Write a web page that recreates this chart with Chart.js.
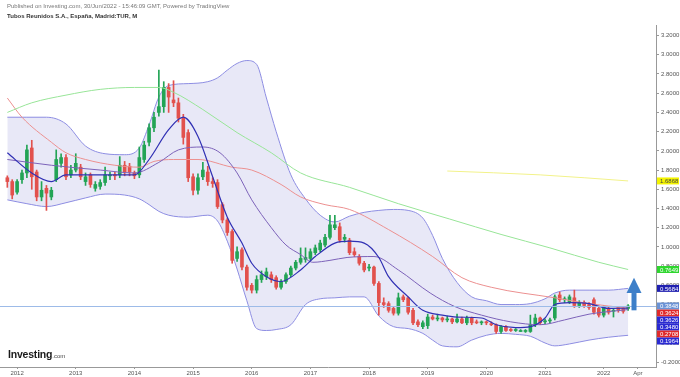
<!DOCTYPE html>
<html>
<head>
<meta charset="utf-8">
<script src="https://cdn.jsdelivr.net/npm/chart.js@4.4.0/dist/chart.umd.min.js"></script>
<style>
html,body{margin:0;padding:0;background:#fff;}
#wrap{position:relative;width:680px;height:377px;overflow:hidden;font-family:"Liberation Sans",Arial,sans-serif;}
#pub{position:absolute;left:7px;top:3px;font-size:6px;color:#777;white-space:nowrap;}
#ttl{position:absolute;left:7px;top:13px;font-size:6px;font-weight:bold;color:#333;white-space:nowrap;}
#logo{position:absolute;left:8px;top:348px;font-size:10.5px;font-weight:bold;color:#1a1a1a;letter-spacing:-0.2px;}
#logo span{font-size:6px;font-weight:normal;color:#444;letter-spacing:0;}
canvas{position:absolute;left:0;top:0;}
</style>
</head>
<body>
<div id="wrap">
  <canvas id="chart" width="680" height="377"></canvas>
  <div id="pub">Published on Investing.com, 30/Jun/2022 - 15:46:09 GMT, Powered by TradingView</div>
  <div id="ttl">Tubos Reunidos S.A., España, Madrid:TUR, M</div>
  <div id="logo">Investing<span>.com</span></div>
</div>
<script>
// month index: 0 = Jan 2012, first candle Nov 2011
const startMonth = -2;

const open  = [1.72,1.68,1.57,1.70,1.77,2.03,1.78,1.52,1.61,1.52,1.70,1.87,1.93,1.75,1.80,1.83,1.68,1.75,1.61,1.63,
  1.67,1.74,1.75,1.75,1.85,1.84,1.77,1.75,1.91,2.09,2.24,2.40,2.46,2.66,2.53,2.50,2.34,2.19,1.73,1.59,
  1.73,1.78,1.68,1.67,1.44,1.28,1.16,0.88,0.97,0.79,0.60,0.55,0.66,0.69,0.71,0.68,0.58,0.64,0.71,0.78,
  0.84,0.87,0.88,0.94,0.97,1.02,1.10,1.20,1.21,1.08,1.07,0.95,0.90,0.83,0.78,0.79,0.62,0.42,0.41,0.36,
  0.31,0.48,0.47,0.34,0.22,0.17,0.18,0.27,0.25,0.26,0.24,0.25,0.22,0.25,0.21,0.26,0.22,0.21,0.22,0.20,
  0.19,0.12,0.17,0.14,0.13,0.13,0.12,0.12,0.19,0.26,0.22,0.23,0.26,0.50,0.45,0.43,0.47,0.39,0.42,0.40,
  0.45,0.36,0.29,0.36,0.33,0.37,0.36,0.36];
const high  = [1.74,1.70,1.70,1.80,2.06,2.11,1.80,1.68,1.64,1.62,2.01,1.97,1.96,1.85,1.97,1.86,1.77,1.77,1.68,1.70,
  1.83,1.78,1.78,1.94,1.89,1.87,1.79,2.04,2.10,2.28,2.40,2.84,2.72,2.70,2.73,2.55,2.38,2.22,1.76,1.76,
  1.88,1.84,1.72,1.70,1.46,1.30,1.18,1.00,0.99,0.81,0.62,0.70,0.75,0.78,0.74,0.70,0.66,0.73,0.80,0.86,
  0.99,0.99,0.98,1.02,1.07,1.13,1.33,1.33,1.25,1.13,1.09,0.99,0.92,0.85,0.82,0.80,0.64,0.47,0.43,0.38,
  0.52,0.50,0.48,0.36,0.24,0.23,0.30,0.29,0.30,0.27,0.28,0.26,0.30,0.27,0.28,0.27,0.24,0.23,0.23,0.22,
  0.20,0.18,0.18,0.15,0.15,0.14,0.14,0.29,0.30,0.27,0.25,0.26,0.50,0.53,0.48,0.50,0.55,0.44,0.44,0.42,
  0.47,0.38,0.39,0.38,0.36,0.38,0.37,0.40];
const low   = [1.62,1.50,1.55,1.66,1.72,1.60,1.48,1.48,1.38,1.49,1.68,1.83,1.70,1.72,1.78,1.70,1.64,1.62,1.58,1.60,
  1.64,1.70,1.70,1.72,1.74,1.74,1.71,1.72,1.88,2.05,2.20,2.36,2.40,2.40,2.46,2.30,2.07,1.68,1.54,1.55,
  1.70,1.64,1.62,1.40,1.25,1.12,0.83,0.85,0.76,0.55,0.52,0.52,0.63,0.66,0.63,0.56,0.56,0.62,0.69,0.76,
  0.82,0.84,0.86,0.92,0.95,1.00,1.08,1.18,1.05,1.05,0.92,0.90,0.81,0.74,0.75,0.60,0.29,0.37,0.32,0.29,
  0.29,0.43,0.30,0.19,0.17,0.15,0.15,0.24,0.23,0.22,0.22,0.20,0.21,0.20,0.19,0.19,0.20,0.19,0.19,0.18,
  0.10,0.10,0.12,0.12,0.12,0.12,0.11,0.11,0.17,0.19,0.20,0.21,0.24,0.43,0.42,0.41,0.37,0.37,0.37,0.35,
  0.30,0.27,0.27,0.30,0.27,0.32,0.31,0.34];
const close = [1.68,1.54,1.68,1.77,2.01,1.73,1.52,1.59,1.56,1.59,1.91,1.93,1.73,1.80,1.87,1.73,1.73,1.65,1.65,1.67,
  1.75,1.75,1.74,1.85,1.78,1.78,1.74,1.93,2.06,2.24,2.35,2.46,2.66,2.56,2.50,2.34,2.14,1.72,1.59,1.72,
  1.80,1.68,1.66,1.42,1.28,1.15,0.86,0.95,0.79,0.58,0.55,0.66,0.71,0.74,0.66,0.58,0.64,0.71,0.78,0.84,
  0.88,0.89,0.95,0.99,1.04,1.10,1.23,1.23,1.07,1.10,0.94,0.92,0.83,0.76,0.79,0.62,0.42,0.40,0.34,0.31,
  0.47,0.45,0.32,0.21,0.19,0.21,0.27,0.25,0.26,0.24,0.25,0.22,0.25,0.21,0.26,0.21,0.21,0.22,0.21,0.19,
  0.12,0.17,0.13,0.13,0.14,0.13,0.13,0.19,0.26,0.21,0.23,0.24,0.48,0.45,0.46,0.48,0.39,0.42,0.39,0.37,
  0.32,0.29,0.37,0.32,0.34,0.34,0.33,0.3848];

// Bollinger bands
const bandMonths = [-2,2,6,10,14,18,22,25,27,29,31,35,39,41,43,45,47,49,51,53,56,59,62,65,68,71,74,77,80,83,85,87,90,93,96,99,102,105,108,110,113,117,121,125];
const bandUpper  = [2.35,2.35,2.35,2.28,2.05,1.97,1.96,2.03,2.27,2.56,2.68,2.70,2.72,2.76,2.84,2.91,2.94,2.90,2.55,2.20,1.75,1.50,1.33,1.26,1.32,1.36,1.38,1.39,1.38,1.30,1.12,0.88,0.63,0.48,0.44,0.40,0.40,0.41,0.46,0.52,0.55,0.55,0.55,0.5684];
const bandLower  = [1.49,1.45,1.42,1.46,1.51,1.55,1.54,1.50,1.44,1.37,1.33,1.31,1.33,1.27,1.06,0.77,0.44,0.15,0.13,0.14,0.19,0.40,0.46,0.47,0.48,0.48,0.28,0.17,0.15,0.10,0.03,-0.03,-0.04,0.03,0.08,0.10,0.09,0.07,0.00,-0.03,-0.01,0.03,0.06,0.08];

// moving averages
const fastMonths = [-2,3,7,10,17,24,27,31,34,37,40,43,46,48,51,54,58,61,65,68,71,74,76,80,83,87,90,95,98,102,105,108,110,113,117,121,125];
const fastMA     = [1.98,1.77,1.68,1.75,1.75,1.75,1.91,2.22,2.35,2.15,1.73,1.31,1.04,0.83,0.69,0.64,0.76,0.90,1.04,1.06,1.04,0.89,0.69,0.48,0.34,0.29,0.27,0.26,0.19,0.16,0.17,0.26,0.40,0.42,0.41,0.36,0.3626];
const midMonths  = [-2,7,17,24,29,33,38,41.5,45,48,52,55,58,60.5,64,67.5,73,78,84.5,89.5,95,101,107,112,117,125];
const midMA      = [1.91,1.85,1.80,1.77,1.88,2.01,2.04,1.98,1.77,1.49,1.20,1.02,0.92,0.84,0.86,0.89,0.90,0.76,0.52,0.38,0.29,0.22,0.19,0.24,0.30,0.348];
const slowMonths = [-2,1,7,10,14,20,25,28,32,37,44,48,54,58,63,68,76,85,91,97,110,117,125];
const slowMA     = [2.55,2.35,2.09,1.98,1.91,1.85,1.83,1.89,1.91,1.91,1.83,1.80,1.65,1.52,1.44,1.39,1.18,0.90,0.68,0.58,0.47,0.41,0.3624];
const greenMonths = [-2,3,10,17,24,29,32,38,45,52,58,68,78,88.5,99,109,119,125];
const greenMA     = [2.40,2.50,2.58,2.64,2.66,2.66,2.61,2.43,2.19,1.98,1.77,1.62,1.45,1.29,1.13,0.99,0.84,0.7649];
const yellowMonths = [88,107,125];
const yellowMA     = [1.79,1.75,1.6868];

// axis ticks
const xTickMonths = [0,12,24,36,48,60,72,84,96,108,120,127];
const xTickLabels = ['2012','2013','2014','2015','2016','2017','2018','2019','2020','2021','2022','Apr'];
const yTickValues = [-0.2,0,0.2,0.4,0.6,0.8,1.0,1.2,1.4,1.6,1.8,2.0,2.2,2.4,2.6,2.8,3.0,3.2];

// price tags on the right axis
const tagValues = [1.6868,0.7649,0.5684,0.3848,0.3624,0.3626,0.3480,0.2708,0.1964];
const tagColors = ['#f4f400','#2fd62f','#1f1fb0','#6b93d6','#e02a2a','#2a2ad2','#2a2ad2','#e02a2a','#2a2ad2'];
const tagText   = ['#444','#fff','#fff','#fff','#fff','#fff','#fff','#fff','#fff'];

// arrow drawing
const arrowMonth = 126.2, arrowFrom = 0.34, arrowHead = 0.52, arrowTip = 0.68;

const upColor = '#23a455', downColor = '#e2514d';
const candleColors = close.map((c,i)=> c >= open[i] ? upColor : downColor);

const pts = (ms,vs)=> ms.map((m,i)=>({x:m,y:vs[i]}));

const lineDs = (data,color,width,order)=>({
  type:'line', data:data, borderColor:color, borderWidth:width,
  pointRadius:0, fill:false, cubicInterpolationMode:'monotone', order:order
});

const overlays = {
  id:'overlays',
  afterDatasetsDraw(chart){
    const ctx = chart.ctx, x = chart.scales.x, y = chart.scales.y, a = chart.chartArea;
    // last price line
    const py = Math.round(y.getPixelForValue(close[close.length-1])) + 0.5;
    ctx.save();
    ctx.strokeStyle = '#9dbbe8'; ctx.lineWidth = 1;
    ctx.beginPath(); ctx.moveTo(a.left,py); ctx.lineTo(a.right,py); ctx.stroke();
    // arrow
    const ax = x.getPixelForValue(arrowMonth);
    const y0 = y.getPixelForValue(arrowFrom), y1 = y.getPixelForValue(arrowHead), y2 = y.getPixelForValue(arrowTip);
    ctx.fillStyle = '#3d7fc9';
    ctx.fillRect(ax-2.5, y1, 5, y0-y1);
    ctx.beginPath(); ctx.moveTo(ax-7.5,y1); ctx.lineTo(ax,y2); ctx.lineTo(ax+7.5,y1); ctx.closePath(); ctx.fill();
    ctx.restore();
  },
  afterDraw(chart){
    const ctx = chart.ctx, y = chart.scales.y, a = chart.chartArea;
    const h = 7;
    let prev = -Infinity;
    ctx.save();
    ctx.font = '6px "Liberation Sans", Arial, sans-serif';
    ctx.textBaseline = 'middle';
    tagValues.forEach((v,i)=>{
      let cy = y.getPixelForValue(v);
      if (cy < prev + h) cy = prev + h;
      prev = cy;
      ctx.fillStyle = tagColors[i];
      ctx.fillRect(a.right+1, cy-h/2, 22, h);
      ctx.fillStyle = tagText[i];
      ctx.fillText(v.toFixed(4), a.right+4, cy+0.5);
    });
    ctx.restore();
  }
};

new Chart(document.getElementById('chart'), {
  data:{
    datasets:[
      {type:'line', data:pts(bandMonths,bandUpper), borderColor:'#8d8de2', borderWidth:1, pointRadius:0,
       cubicInterpolationMode:'monotone', fill:'+1', backgroundColor:'rgba(118,118,206,0.17)', order:10},
      {type:'line', data:pts(bandMonths,bandLower), borderColor:'#8d8de2', borderWidth:1, pointRadius:0,
       cubicInterpolationMode:'monotone', fill:false, order:9},
      {type:'bar', data:low.map((l,i)=>({x:startMonth+i, y:[l,high[i]]})), backgroundColor:candleColors,
       barThickness:1, grouped:false, order:4},
      {type:'bar', data:open.map((o,i)=>({x:startMonth+i, y:[o,close[i]]})), backgroundColor:candleColors,
       barThickness:3, minBarLength:1, grouped:false, order:3},
      lineDs(pts(greenMonths,greenMA),'#98e598',1,2),
      lineDs(pts(yellowMonths,yellowMA),'#f2f28a',1,2),
      lineDs(pts(slowMonths,slowMA),'#ec9090',1,2),
      lineDs(pts(midMonths,midMA),'#7c62b9',1,1),
      lineDs(pts(fastMonths,fastMA),'#3030b4',1.2,0)
    ]
  },
  options:{
    responsive:false, animation:false, devicePixelRatio:1,
    layout:{padding:{top:25,left:0,right:0,bottom:0}},
    plugins:{legend:{display:false}, tooltip:{enabled:false}},
    scales:{
      x:{
        type:'linear', min:-3.5, max:130.7, offset:false,
        afterBuildTicks:(s)=>{ s.ticks = xTickMonths.map(v=>({value:v})); },
        afterFit:(s)=>{ s.height = 10; },
        ticks:{callback:(v,i)=>xTickLabels[i], font:{family:'"Liberation Sans", Arial', size:6}, color:'#555',
               maxRotation:0, autoSkip:false, padding:1},
        grid:{drawOnChartArea:false, tickLength:2, color:'#999', offset:false},
        border:{color:'#999'}
      },
      y:{
        position:'right', min:-0.25, max:3.31,
        afterBuildTicks:(s)=>{ s.ticks = yTickValues.map(v=>({value:v})); },
        afterFit:(s)=>{ s.width = 24; },
        ticks:{callback:(v)=>Number(v).toFixed(4), font:{family:'"Liberation Sans", Arial', size:6}, color:'#555', padding:2},
        grid:{drawOnChartArea:false, tickLength:3, color:'#999'},
        border:{color:'#999'}
      }
    }
  },
  plugins:[overlays]
});
</script>
</body>
</html>
